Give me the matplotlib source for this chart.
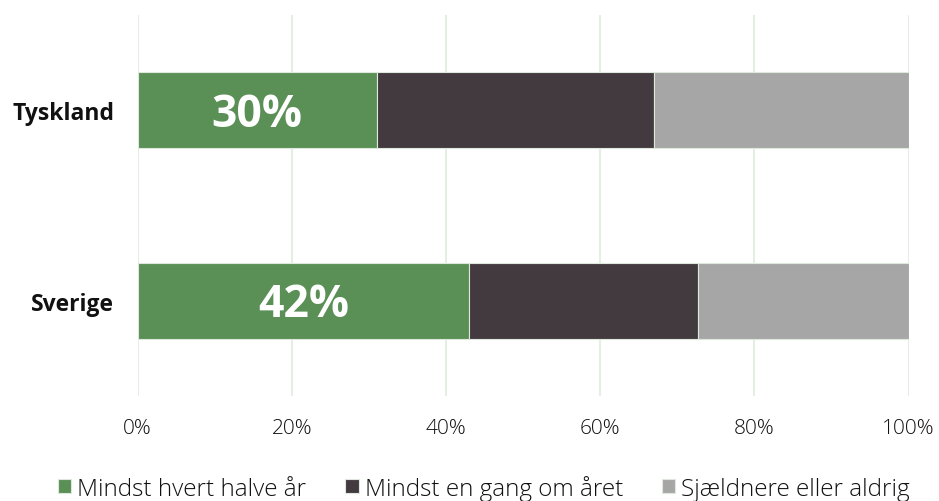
import matplotlib.pyplot as plt
import numpy as np

countries = ["Sverige", "Tyskland"]
series = ["Mindst hvert halve år", "Mindst en gang om året", "Sjældnere eller aldrig"]
half_year = [43.0, 31.0]
once_year = [29.7, 36.0]
rarely = [27.3, 33.0]
bar_labels = ["42%", "30%"]
colors = ["#5a8f56", "#433a3f", "#a6a6a6"]

plt.rcParams['font.family'] = ['Open Sans', 'DejaVu Sans']

fig = plt.figure(figsize=(9.39, 5.02), dpi=100)
ax = fig.add_axes([0.1466, 0.2092, 0.8211, 0.7589])

y = np.arange(len(countries))
left = np.zeros(len(countries))
for vals, name, col in zip([half_year, once_year, rarely], series, colors):
    ax.barh(y, vals, left=left, height=0.4, color=col, label=name,
            edgecolor="#dfe8dc", linewidth=0.8, zorder=2)
    left += np.array(vals)

for yi, v, lab in zip(y, half_year, bar_labels):
    ax.text(v / 2, yi - 0.02, lab, ha="center", va="center", color="white",
            fontsize=32, fontweight="bold", zorder=3)

ax.set_xlim(0, 100)
ax.set_ylim(-0.5, 1.5)
ax.set_xticks(range(0, 101, 20))
ax.set_xticklabels([f"{t}%" for t in range(0, 101, 20)], fontsize=15,
                   fontweight="light", color="#111111")
ax.set_yticks(y)
ax.set_yticklabels(countries, fontsize=16.5, fontweight="bold", color="#111111")
ax.tick_params(axis="both", length=0)
ax.tick_params(axis="x", pad=16)
ax.tick_params(axis="y", pad=17)
ax.grid(axis="x", color="#e5eee3", linewidth=1.5, zorder=0)
for s in ax.spines.values():
    s.set_visible(False)

leg = ax.legend(loc="center", bbox_to_anchor=(0.449, -0.241), ncol=3, frameon=False,
                handlelength=0.55, handleheight=0.55, handletextpad=0.25,
                columnspacing=1.6, prop={"size": 17.5, "weight": "light"})
for t in leg.get_texts():
    t.set_color("#111111")

fig.savefig("out.png", dpi=100)
